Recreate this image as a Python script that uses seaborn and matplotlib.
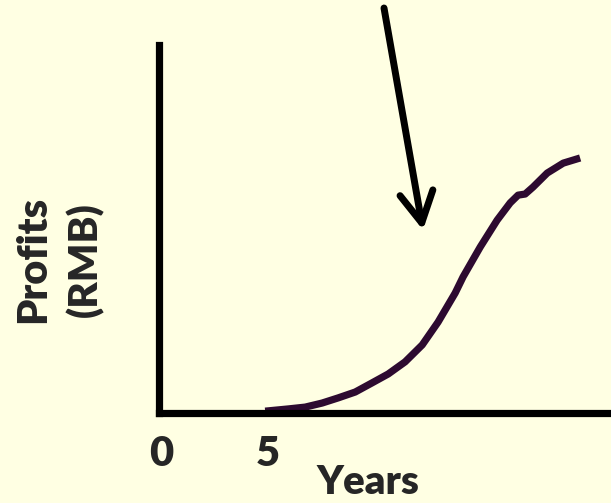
import seaborn as sns
import matplotlib.pyplot as plt
import pandas as pd

# profit curve (years vs arbitrary profit units)
years = [4.86, 5.93, 6.73, 7.52, 8.27, 9.07, 9.86, 10.61, 11.40, 12.20, 12.94,
         13.74, 14.11, 14.91, 15.70, 16.31, 16.68, 17.01, 17.38, 18.04, 18.79, 19.58]
profits = [0.5, 1.1, 1.6, 2.7, 4.1, 5.7, 8.2, 10.6, 13.9, 18.5, 24.7,
           32.6, 37.0, 45.1, 52.4, 57.1, 59.2, 59.5, 61.4, 65.2, 67.9, 69.3]
tick_years = [0, 5]
tick_labels = ['0', '5']

bg = '#FFFFE3'
curve_col = '#2D0A30'

sns.set_style('white')
plt.rcParams['font.family'] = ['Lato', 'DejaVu Sans']
plt.rcParams['font.weight'] = 'bold'

fig = plt.figure(figsize=(6.11, 5.03), dpi=100, facecolor=bg)
W, H = 611, 503
# axes box: left spine at x=159px, bottom spine at y=413px, top at y=45px
ax = fig.add_axes([159 / W, (H - 413) / H, (W - 159) / W, (413 - 45) / H])
ax.set_facecolor(bg)

df = pd.DataFrame({'Years': years, 'Profits': profits})
sns.lineplot(data=df, x='Years', y='Profits', ax=ax, color=curve_col, lw=5.2,
             solid_capstyle='butt', solid_joinstyle='round')

px_per_year = 21.4
ax.set_xlim(-0.1, (W - 159) / px_per_year - 0.1)
ax.set_ylim(0, 100)

for s in ['top', 'right']:
    ax.spines[s].set_visible(False)
for s in ['left', 'bottom']:
    ax.spines[s].set_linewidth(5.2)
    ax.spines[s].set_color('black')
    ax.spines[s].set_capstyle('projecting')

ax.set_xticks(tick_years)
ax.set_xticklabels(tick_labels, fontweight='heavy')
ax.set_yticks([])
ax.tick_params(axis='x', length=0, pad=16, labelsize=30)
ax.set_xlabel('')
ax.set_ylabel('')

fig.text(368 / W, 2 / H, 'Years', fontsize=29, fontweight='heavy',
         ha='center', va='bottom')
fig.text(33 / W, (H - 259) / H, 'Profits', fontsize=30, fontweight='heavy',
         rotation=90, ha='center', va='center')
fig.text(85 / W, (H - 260) / H, '(RMB)', fontsize=29, fontweight='heavy',
         rotation=90, ha='center', va='center')

ax.annotate('', xy=(423, H - 230), xycoords='figure pixels',
            xytext=(384, H - 8), textcoords='figure pixels',
            arrowprops=dict(arrowstyle='->,head_length=1.1,head_width=0.6',
                            lw=5, color='black', mutation_scale=20,
                            shrinkA=0, shrinkB=0),
            annotation_clip=False)

fig.savefig('out.png', dpi=100, facecolor=bg)
